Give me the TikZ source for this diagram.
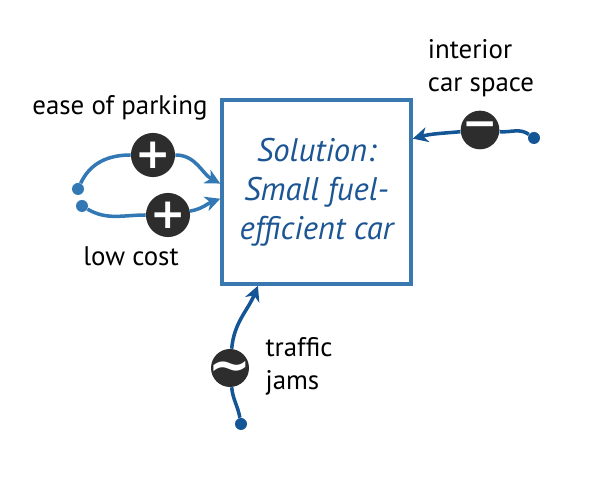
\documentclass[tikz,border=0pt]{standalone}
\usepackage{fontspec}
\setmainfont{PT Sans}
\newfontfamily\symfont{DejaVu Sans}
\usetikzlibrary{arrows.meta}
\definecolor{linkblue}{HTML}{3278B4}
\definecolor{deepblue}{HTML}{145596}
\definecolor{boxblue}{HTML}{3A78B0}
\definecolor{textblue}{HTML}{1C5594}
\definecolor{signgray}{HTML}{2D2D2D}
\newcommand{\plussign}{{\symfont\bfseries +}}
\newcommand{\minussign}{{\symfont\bfseries −}}
\newcommand{\waysign}{{\symfont\bfseries\fontsize{29}{29}\selectfont
  \makebox[0pt]{\smash{\raisebox{-0.28em}{\textasciitilde}}}}}

\begin{document}
\begin{tikzpicture}[
  dot/.style={circle,fill=#1,inner sep=0pt,minimum size=0.24cm},
  sign/.style={circle,fill=signgray,text=white,inner sep=0pt,minimum size=0.76cm,
    font=\fontsize{24}{24}\selectfont},
  link/.style={line width=2pt,color=#1,-{Stealth[length=0.3cm,width=0.3cm,inset=0.09cm]}},
  plain/.style={line width=2pt,color=#1},
  label/.style={font=\fontsize{15.3}{18.7}\selectfont,align=left,inner sep=0pt}]

\useasboundingbox (0,0) rectangle (12,-10);

\node[draw=boxblue,line width=2pt,minimum width=3.78cm,minimum height=3.68cm,
  inner sep=0pt,text=textblue,align=center,
  font=\itshape\fontsize{18.6}{22.2}\selectfont] (sol) at (6.33,-3.84)
  {Solution:\\Small fuel-\\efficient car};


\node[dot=linkblue] (dparking) at (1.56,-3.78) {};
\node[sign] (sparking) at (3.06,-3.10) {\plussign};
\draw[plain=linkblue] (dparking) to[out=65,in=180] (sparking);
\draw[link=linkblue] (sparking) to[out=0,in=152] (sol.175);

\node[label] (lparking) at (2.40,-2.16) {ease of parking};


\node[dot=linkblue] (dcost) at (1.64,-4.12) {};
\node[sign] (scost) at (3.36,-4.30) {\plussign};
\draw[plain=linkblue] (dcost) to[out=-30,in=180] (scost);
\draw[link=linkblue] (scost) to[out=10,in=200] (sol.184);

\node[label] (lcost) at (2.62,-5.12) {low cost};


\node[dot=deepblue] (dspace) at (10.68,-2.76) {};
\node[sign] (sspace) at (9.60,-2.60) {\minussign};
\draw[plain=deepblue] (dspace) to[out=145,in=-5] (sspace);
\draw[link=deepblue] (sspace) to[out=185,in=15] (sol.29);

\node[label] (lspace) at (9.62,-1.36) {interior\\car space};


\node[dot=deepblue] (djams) at (4.82,-8.48) {};
\node[sign] (sjams) at (4.60,-7.36) {\waysign};
\draw[plain=deepblue] (djams) to[out=100,in=-85] (sjams);
\draw[link=deepblue] (sjams) to[out=85,in=-112] (sol.238);

\node[label] (ljams) at (5.98,-7.32) {traffic\\jams};

\end{tikzpicture}
\end{document}
